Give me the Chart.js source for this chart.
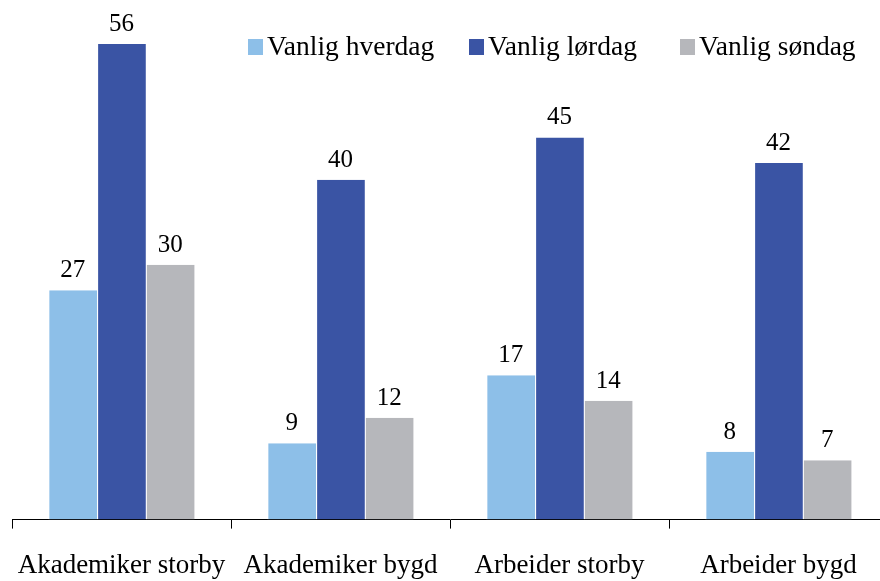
<!DOCTYPE html>
<html>
<head>
<meta charset="utf-8">
<script src="https://cdn.jsdelivr.net/npm/chart.js@4"></script>
<style>
  html, body { margin: 0; padding: 0; background: #fff; overflow: hidden; }
  #wrap { position: relative; width: 900px; height: 607px; }
</style>
</head>
<body>
<div id="wrap"><canvas id="myChart"></canvas></div>
<script>
// categories and series
const categories = ['Akademiker storby', 'Akademiker bygd', 'Arbeider storby', 'Arbeider bygd'];
const hverdag = [27, 9, 17, 8];
const lordag = [56, 40, 45, 42];
const sondag = [30, 12, 14, 7];
const seriesNames = ['Vanlig hverdag', 'Vanlig lørdag', 'Vanlig søndag'];
const seriesColors = ['#8DBFE8', '#3A54A4', '#B6B7BB'];

const FONT = '"Liberation Serif", "Times New Roman", serif';

//value labels above each bar
const valueLabels = {
    id: 'valueLabels',
    afterDatasetsDraw(chart) {
        const ctx = chart.ctx;
        ctx.save();
        ctx.font = '25px ' + FONT;
        ctx.fillStyle = '#000';
        ctx.textAlign = 'center';
        ctx.textBaseline = 'bottom';
        chart.data.datasets.forEach((ds, i) => {
            chart.getDatasetMeta(i).data.forEach((bar, j) => {
                ctx.fillText(ds.data[j], bar.x, bar.y - 7);
            });
        });
        ctx.restore();
    }
};

//legend drawn inside the plot, top right (item left edges)
const legendX = [248, 469, 680];
const topLegend = {
    id: 'topLegend',
    afterDraw(chart) {
        const ctx = chart.ctx;
        ctx.save();
        ctx.font = '27.5px ' + FONT;
        ctx.textBaseline = 'middle';
        const y = 48;
        chart.data.datasets.forEach((ds, i) => {
            const x = legendX[i];
            ctx.fillStyle = ds.backgroundColor;
            ctx.fillRect(x, y - 9, 15, 16);
            ctx.fillStyle = '#000';
            ctx.fillText(ds.label, x + 19, y);
        });
        ctx.restore();
    }
};

const datasets = [hverdag, lordag, sondag].map((d, i) => ({
    label: seriesNames[i],
    data: d,
    backgroundColor: seriesColors[i],
    borderColor: '#fff',
    borderWidth: { left: 1, right: 0, top: 0, bottom: 0 },
    borderSkipped: false,
    barPercentage: 1,
    categoryPercentage: 0.668
}));

new Chart(document.getElementById('myChart'), {
    type: 'bar',
    data: { labels: categories, datasets: datasets },
    options: {
        responsive: true,
        maintainAspectRatio: false,
        animation: false,
        layout: { padding: { left: 12, right: 12, top: 10, bottom: 4 } },
        plugins: {
            legend: { display: false },
            tooltip: { enabled: false }
        },
        scales: {
            y: {
                display: false,
                min: 0,
                max: 60
            },
            x: {
                afterFit(scale) {
                    // labels fit inside their category, no extra side padding
                    scale.paddingLeft = 0;
                    scale.paddingRight = 0;
                },
                grid: {
                    offset: true,
                    drawOnChartArea: false,
                    color: '#000',
                    tickLength: 9,
                    tickColor: '#000'
                },
                border: { display: true, color: '#000', width: 1 },
                ticks: {
                    color: '#000',
                    padding: 21,
                    maxRotation: 0,
                    autoSkip: false,
                    font: { family: FONT, size: 27 }
                }
            }
        }
    },
    plugins: [valueLabels, topLegend]
});
</script>
</body>
</html>
